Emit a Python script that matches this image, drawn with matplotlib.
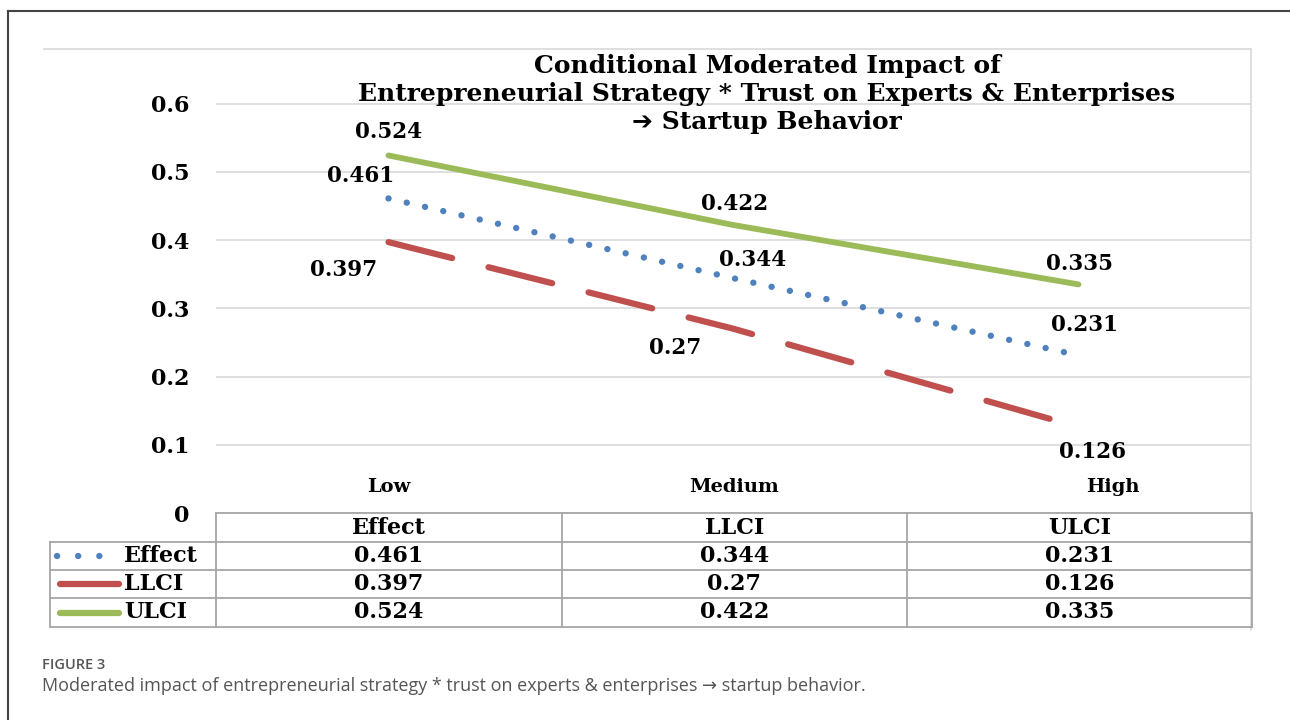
import matplotlib
matplotlib.use("Agg")
import matplotlib.pyplot as plt
from matplotlib.lines import Line2D

# data
levels = ["Low", "Medium", "High"]
effect = [0.461, 0.344, 0.231]
llci = [0.397, 0.27, 0.126]
ulci = [0.524, 0.422, 0.335]
y_ticks = [0, 0.1, 0.2, 0.3, 0.4, 0.5, 0.6]
y_tick_labels = ["0", "0.1", "0.2", "0.3", "0.4", "0.5", "0.6"]
table_cols = ["Effect", "LLCI", "ULCI"]
series_names = ["Effect", "LLCI", "ULCI"]
title_lines = ["Conditional Moderated Impact of",
               "Entrepreneurial Strategy * Trust on Experts & Enterprises",
               "\u2794 Startup Behavior"]
caption_head = "FIGURE 3"
caption = ("Moderated impact of entrepreneurial strategy * trust on experts "
           "& enterprises \u2192 startup behavior.")

W, H = 1290, 720
BLUE, RED, GREEN = "#4F81BD", "#C0504D", "#9BBB59"
GRID = "#D9D9D9"
TAB = "#A6A6A6"
BOLD = dict(family=["DejaVu Serif", "DejaVu Sans"], fontweight="bold", color="black")


def fx(x):
    return x / W


def fy(y):
    return 1 - y / H


def hline(y, x0, x1, color=TAB, lw=1.3):
    fig.add_artist(Line2D([fx(x0), fx(x1)], [fy(y), fy(y)], color=color, lw=lw,
                          transform=fig.transFigure))


def vline(x, y0, y1, color=TAB, lw=1.3):
    fig.add_artist(Line2D([fx(x), fx(x)], [fy(y0), fy(y1)], color=color, lw=lw,
                          transform=fig.transFigure))


fig = plt.figure(figsize=(W / 100, H / 100), dpi=100)
ax = fig.add_axes([fx(216), fy(513), (1251 - 216) / W, (513 - 49) / H])
ax.set_xlim(-0.5, 2.5)
ax.set_ylim(0, 0.68)
for s in ax.spines.values():
    s.set_visible(False)
ax.set_xticks([])
ax.set_yticks(y_ticks)
ax.set_yticklabels(y_tick_labels, **BOLD, fontsize=16)
ax.tick_params(axis="y", length=0, pad=19)
ax.yaxis.grid(True, color=GRID, lw=1.2)
ax.set_axisbelow(True)

x = list(range(len(levels)))
ax.plot(x, ulci, color=GREEN, lw=4.2, solid_capstyle="round")
ax.plot(x, llci, color=RED, lw=4.5, linestyle=(0, (10.5, 6)), dash_capstyle="round")
ax.plot(x, effect, color=BLUE, lw=4.6, linestyle=(0, (0.01, 2.92)), dash_capstyle="round")

# value label offsets (points)
offs = {
    "Effect": [(-20, 16), (14, 13), (4, 22)],
    "LLCI": [(-32, -20), (-42, -14), (10, -18)],
    "ULCI": [(0, 17), (1, 15), (1, 15)],
}
for name, vals in zip(series_names, [effect, llci, ulci]):
    for i, v in enumerate(vals):
        ax.annotate(f"{v:g}", (i, v), xytext=offs[name][i], textcoords="offset points",
                    ha="center", va="center", fontsize=15.5, **BOLD)

for i, lab in enumerate(levels):
    ax.text(i + (0.1 if i == 2 else 0), (513 - 487) / 464, lab, transform=ax.get_xaxis_transform(),
            ha="center", va="center", fontsize=14, **BOLD)

# chart area box
hline(49, 44, 1251, color=GRID, lw=1.2)
vline(1251, 49, 630, color=GRID, lw=1.2)

# data table
col_x = [216, 562, 907, 1252]
row_y = [513, 542, 570, 598, 627]
hline(row_y[0], col_x[0], col_x[-1])
for y in row_y[1:]:
    hline(y, 50, col_x[-1])
for xx in col_x:
    vline(xx, row_y[0], row_y[-1])
vline(50, row_y[1], row_y[-1])

for j, c in enumerate(table_cols):
    cx = (col_x[j] + col_x[j + 1]) / 2
    fig.text(fx(cx), fy((row_y[0] + row_y[1]) / 2), c, ha="center", va="center",
             fontsize=16, **BOLD)
for r, vals in enumerate([effect, llci, ulci]):
    cy = (row_y[r + 1] + row_y[r + 2]) / 2
    for j, v in enumerate(vals):
        cx = (col_x[j] + col_x[j + 1]) / 2
        fig.text(fx(cx), fy(cy), f"{v:g}", ha="center", va="center", fontsize=16, **BOLD)
    fig.text(fx(124), fy(cy), series_names[r], ha="left", va="center", fontsize=16, **BOLD)

# legend keys in row headers
ky = [(row_y[i] + row_y[i + 1]) / 2 for i in range(1, 4)]
fig.add_artist(Line2D([fx(57), fx(100)], [fy(ky[0])] * 2, color=BLUE, lw=4.6,
                      linestyle=(0, (0.01, 3.3)), dash_capstyle="round", transform=fig.transFigure))
fig.add_artist(Line2D([fx(60), fx(119)], [fy(ky[1])] * 2, color=RED, lw=4.5,
                      solid_capstyle="round", transform=fig.transFigure))
fig.add_artist(Line2D([fx(60), fx(119)], [fy(ky[2])] * 2, color=GREEN, lw=4.5,
                      solid_capstyle="round", transform=fig.transFigure))

# title: first two lines as a block, last line on its own
fig.text(fx(767), fy(80), "\n".join(title_lines[:2]), ha="center", va="center",
         fontsize=18, linespacing=1.25, multialignment="center", **BOLD)
fig.text(fx(767), fy(122), title_lines[2], ha="center", va="center", fontsize=18, **BOLD)

# outer frame and caption
hline(11, 8, 1290, color="#444444", lw=1.5)
vline(8, 11, 720, color="#444444", lw=1.5)
fig.text(fx(42), fy(665), caption_head, ha="left", va="center", fontsize=10.5,
         family="Open Sans", fontweight="semibold", color="#555555")
fig.text(fx(42), fy(686), caption, ha="left", va="center", fontsize=13,
         family=["Open Sans", "DejaVu Sans"], color="#555555")

fig.savefig("out.png", dpi=100)
